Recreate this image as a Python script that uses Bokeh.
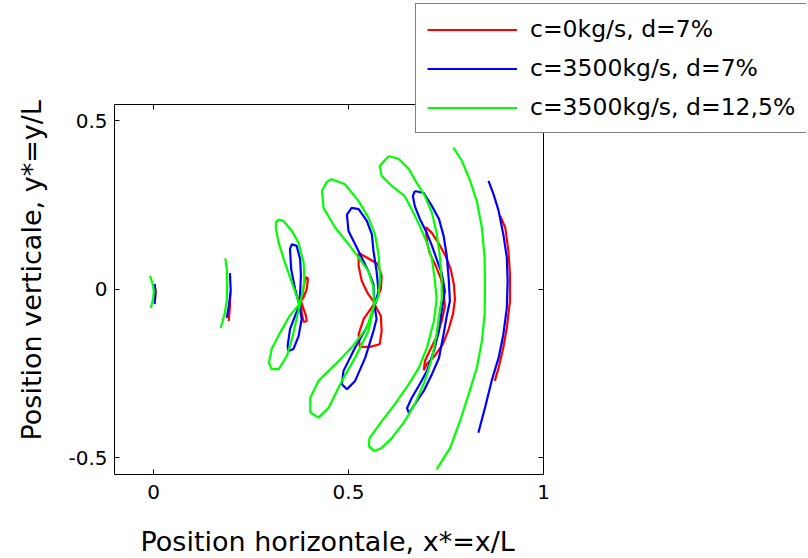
import math
from bokeh.plotting import figure
from bokeh.models import Range1d, LinearAxis, FixedTicker, Legend, LegendItem, Label
from bokeh.embed import file_html
from bokeh.resources import INLINE

# ---------------- data (x* = x/L, y* = y/L) ----------------
series_labels = ["c=0kg/s, d=7%", "c=3500kg/s, d=7%", "c=3500kg/s, d=12,5%"]
series_colors = ["#ff0000", "#0000ff", "#00ff00"]

# red : c=0kg/s, d=7%
r1_x = [0.004, 0.005, 0.004]
r1_y = [0.005, -0.010, -0.030]
r2_x = [0.197, 0.196, 0.193]
r2_y = [-0.011, -0.050, -0.094]
r3_x = [0.378, 0.383, 0.388, 0.392, 0.396, 0.393, 0.385, 0.378, 0.385, 0.391, 0.393, 0.385, 0.380, 0.378]
r3_y = [-0.035, -0.005, 0.025, 0.037, 0.031, 0.001, -0.023, -0.035, -0.059, -0.079, -0.094, -0.097, -0.070, -0.035]
r4_x = [0.567, 0.549, 0.534, 0.526, 0.526, 0.549, 0.575, 0.585, 0.583, 0.567, 0.583, 0.585, 0.580, 0.555, 0.529, 0.526, 0.539, 0.557, 0.567]
r4_y = [-0.041, -0.011, 0.025, 0.069, 0.108, 0.093, 0.075, 0.040, 0.001, -0.045, -0.079, -0.124, -0.163, -0.171, -0.171, -0.133, -0.088, -0.058, -0.041]
r5_x = [0.698, 0.714, 0.732, 0.749, 0.762, 0.770, 0.773, 0.768, 0.757, 0.742, 0.721, 0.701, 0.693, 0.696, 0.708, 0.724, 0.739, 0.747, 0.744, 0.737, 0.724, 0.708, 0.701, 0.698]
r5_y = [0.185, 0.167, 0.135, 0.099, 0.060, 0.016, -0.029, -0.073, -0.118, -0.163, -0.198, -0.222, -0.240, -0.213, -0.183, -0.145, -0.094, -0.050, -0.005, 0.031, 0.069, 0.108, 0.143, 0.185]
r6_x = [0.889, 0.902, 0.910, 0.914, 0.914, 0.906, 0.897, 0.885, 0.875]
r6_y = [0.218, 0.183, 0.114, 0.045, -0.035, -0.114, -0.173, -0.233, -0.272]

# blue : c=3500kg/s, d=7%
b1_x = [0.003, 0.005, 0.004, 0.003]
b1_y = [0.016, -0.005, -0.025, -0.044]
b2_x = [0.196, 0.198, 0.193, 0.188]
b2_y = [0.048, -0.005, -0.050, -0.085]
b3_x = [0.374, 0.363, 0.353, 0.350, 0.355, 0.367, 0.376, 0.378, 0.376, 0.374, 0.380, 0.372, 0.359, 0.346, 0.344, 0.350, 0.363, 0.374]
b3_y = [-0.047, 0.001, 0.060, 0.120, 0.134, 0.129, 0.090, 0.040, -0.010, -0.047, -0.088, -0.139, -0.177, -0.183, -0.168, -0.118, -0.079, -0.047]
b4_x = [0.567, 0.564, 0.551, 0.534, 0.517, 0.500, 0.496, 0.508, 0.526, 0.547, 0.560, 0.564, 0.572, 0.577, 0.567,
        0.572, 0.564, 0.543, 0.517, 0.496, 0.483, 0.487, 0.517, 0.551, 0.567]
b4_y = [-0.050, 0.015, 0.054, 0.094, 0.134, 0.173, 0.222, 0.242, 0.238, 0.203, 0.163, 0.114, 0.054, -0.005, -0.050,
        -0.088, -0.124, -0.203, -0.272, -0.297, -0.282, -0.243, -0.173, -0.104, -0.050]
b5_x = [0.670, 0.693, 0.714, 0.732, 0.744, 0.752, 0.757, 0.760, 0.752, 0.744, 0.732, 0.714, 0.693, 0.670, 0.655, 0.650,
        0.662, 0.683, 0.701, 0.719, 0.732, 0.739, 0.747, 0.739, 0.726, 0.714, 0.701, 0.683, 0.670, 0.665, 0.670]
b5_y = [0.292, 0.286, 0.247, 0.209, 0.158, 0.099, 0.031, -0.035, -0.079, -0.132, -0.204, -0.252, -0.302, -0.341, -0.368, -0.353,
        -0.323, -0.281, -0.243, -0.183, -0.124, -0.064, -0.005, 0.048, 0.090, 0.129, 0.167, 0.209, 0.247, 0.277, 0.292]
b6_x = [0.859, 0.872, 0.885, 0.897, 0.906, 0.908, 0.906, 0.897, 0.885, 0.867, 0.850, 0.833]
b6_y = [0.322, 0.282, 0.233, 0.163, 0.094, 0.025, -0.055, -0.134, -0.203, -0.272, -0.352, -0.426]

# green : c=3500kg/s, d=12,5%
g1_x = [-0.009, -0.003, 0.001, -0.001, -0.007]
g1_y = [0.040, 0.020, -0.005, -0.030, -0.055]
g2_x = [0.184, 0.188, 0.189, 0.188, 0.183, 0.176, 0.172]
g2_y = [0.092, 0.060, 0.020, -0.030, -0.070, -0.100, -0.115]
g3_x = [0.374, 0.355, 0.337, 0.321, 0.314, 0.314, 0.322, 0.333, 0.355, 0.372, 0.385, 0.387, 0.376,
        0.367, 0.355, 0.342, 0.321, 0.303, 0.296, 0.303, 0.324, 0.349, 0.374]
g3_y = [-0.044, 0.020, 0.079, 0.138, 0.179, 0.200, 0.207, 0.203, 0.173, 0.138, 0.079, 0.020, -0.041,
        -0.088, -0.148, -0.198, -0.237, -0.237, -0.219, -0.177, -0.130, -0.079, -0.044]
g4_x = [0.565, 0.564, 0.551, 0.526, 0.500, 0.466, 0.436, 0.432, 0.444, 0.457, 0.491, 0.526, 0.551, 0.568, 0.577, 0.581, 0.577, 0.565,
        0.551, 0.517, 0.483, 0.449, 0.423, 0.402, 0.402, 0.423, 0.466, 0.508, 0.547, 0.565]
g4_y = [-0.050, 0.005, 0.054, 0.094, 0.134, 0.183, 0.242, 0.292, 0.319, 0.327, 0.312, 0.262, 0.213, 0.163, 0.104, 0.034, -0.020, -0.050,
        -0.124, -0.203, -0.272, -0.352, -0.381, -0.366, -0.322, -0.272, -0.223, -0.173, -0.114, -0.050]
g5_x = [0.603, 0.629, 0.655, 0.675, 0.696, 0.714, 0.726, 0.734, 0.739, 0.739, 0.732, 0.726, 0.714, 0.696, 0.670, 0.644, 0.611, 0.585, 0.565,
        0.552, 0.554, 0.585, 0.619, 0.655, 0.680, 0.701, 0.719, 0.726, 0.721, 0.714, 0.701, 0.683, 0.662, 0.644, 0.611, 0.585, 0.580, 0.603]
g5_y = [0.396, 0.387, 0.357, 0.316, 0.277, 0.227, 0.167, 0.099, 0.031, -0.029, -0.079, -0.132, -0.204, -0.272, -0.341, -0.392, -0.442, -0.471, -0.480,
        -0.465, -0.442, -0.392, -0.341, -0.281, -0.234, -0.174, -0.094, -0.029, 0.031, 0.090, 0.138, 0.188, 0.238, 0.277, 0.307, 0.337, 0.366, 0.396]
g6_x = [0.769, 0.791, 0.812, 0.829, 0.842, 0.849, 0.850, 0.849, 0.842, 0.829, 0.808, 0.786, 0.761, 0.726]
g6_y = [0.421, 0.381, 0.322, 0.262, 0.183, 0.094, 0.005, -0.074, -0.154, -0.233, -0.312, -0.391, -0.470, -0.535]

x_lim = (-0.1, 1.0)
y_lim = (-0.55, 0.55)
x_ticks = [0, 0.5, 1]
x_tick_labels = ["0", "0.5", "1"]
y_ticks = [-0.5, 0, 0.5]
y_tick_labels = ["-0.5", "0", "0.5"]
x_title = "Position horizontale, x*=x/L"
y_title = "Position verticale, y*=y/L"

FONT = "DejaVu Sans"

# ---------------- layout (screen pixels) ----------------
W, H = 806, 556
BOX_LEFT, BOX_BOTTOM = 114, 474      # where the axes box corner (x_lim[0], y_lim[0]) sits
PX_PER_X = 390.0
PX_PER_Y = 336.7
# the frame covers the whole canvas (so the legend and titles are never clipped);
# the axes box is drawn with bounded, fixed-location axes
x_start = x_lim[0] - BOX_LEFT / PX_PER_X
x_end = x_lim[0] + (W - BOX_LEFT) / PX_PER_X
y_start = y_lim[0] - (H - BOX_BOTTOM) / PX_PER_Y
y_end = y_lim[0] + BOX_BOTTOM / PX_PER_Y

def sx(px):
    return x_start + px / PX_PER_X

def sy(py):
    return y_end - py / PX_PER_Y

p = figure(width=W, height=H,
           x_range=Range1d(x_start, x_end), y_range=Range1d(y_start, y_end),
           x_axis_location=None, y_axis_location=None,
           output_backend="svg", toolbar_location=None,
           min_border=0, min_border_left=0, min_border_right=0,
           min_border_top=0, min_border_bottom=0)
p.grid.visible = False
p.outline_line_color = None
p.background_fill_color = "white"
p.border_fill_color = "white"

red_xs = [r1_x, r2_x, r3_x, r4_x, r5_x, r6_x]
red_ys = [r1_y, r2_y, r3_y, r4_y, r5_y, r6_y]
blue_xs = [b1_x, b2_x, b3_x, b4_x, b5_x, b6_x]
blue_ys = [b1_y, b2_y, b3_y, b4_y, b5_y, b6_y]
green_xs = [g1_x, g2_x, g3_x, g4_x, g5_x, g6_x]
green_ys = [g1_y, g2_y, g3_y, g4_y, g5_y, g6_y]

renderers = []
for xs, ys, col in [(red_xs, red_ys, series_colors[0]),
                    (blue_xs, blue_ys, series_colors[1]),
                    (green_xs, green_ys, series_colors[2])]:
    r = p.multi_line(xs, ys, line_color=col, line_width=2.2)
    renderers.append(r)

def make_axis(ticks, labels, loc, bnds, show_labels, standoff):
    ax = LinearAxis(ticker=FixedTicker(ticks=ticks), fixed_location=loc, bounds=bnds,
                    major_tick_in=5, major_tick_out=0, minor_tick_line_color=None,
                    axis_line_color="black", major_tick_line_color="black",
                    major_label_standoff=standoff)
    if show_labels:
        ax.major_label_overrides = {t: l for t, l in zip(ticks, labels)}
        ax.major_label_text_font = FONT
        ax.major_label_text_font_size = "20px"
        ax.major_label_text_color = "black"
    else:
        ax.major_label_text_color = None
    return ax

p.add_layout(make_axis(x_ticks, x_tick_labels, y_lim[0], x_lim, True, 10), "below")
p.add_layout(make_axis(y_ticks, y_tick_labels, x_lim[0], y_lim, True, 7), "left")
p.add_layout(make_axis(x_ticks, x_tick_labels, y_lim[1], x_lim, False, 0), "above")
p.add_layout(make_axis(y_ticks, y_tick_labels, x_lim[1], y_lim, False, 0), "right")

# axis titles
p.add_layout(Label(x=sx(140), y=sy(541), text=x_title, text_align="left", text_baseline="middle",
                   text_font=FONT, text_font_size="27px", text_color="black"))
p.add_layout(Label(x=sx(31), y=sy(440), text=y_title, angle=math.pi / 2, text_align="left",
                   text_baseline="middle", text_font=FONT, text_font_size="27px", text_color="black"))

legend = Legend(items=[LegendItem(label=series_labels[i], renderers=[renderers[i]]) for i in range(3)],
                location=(415, H - 133))
legend.label_text_font = FONT
legend.label_text_font_size = "23.5px"
legend.label_text_color = "black"
legend.glyph_width = 90
legend.glyph_height = 27
legend.label_height = 27
legend.label_standoff = 13
legend.spacing = 11
legend.padding = 11
legend.margin = 0
legend.border_line_color = "black"
legend.border_line_width = 1
legend.background_fill_color = "white"
legend.background_fill_alpha = 1.0
p.add_layout(legend)

open("out.html", "w").write(file_html(p, INLINE))
